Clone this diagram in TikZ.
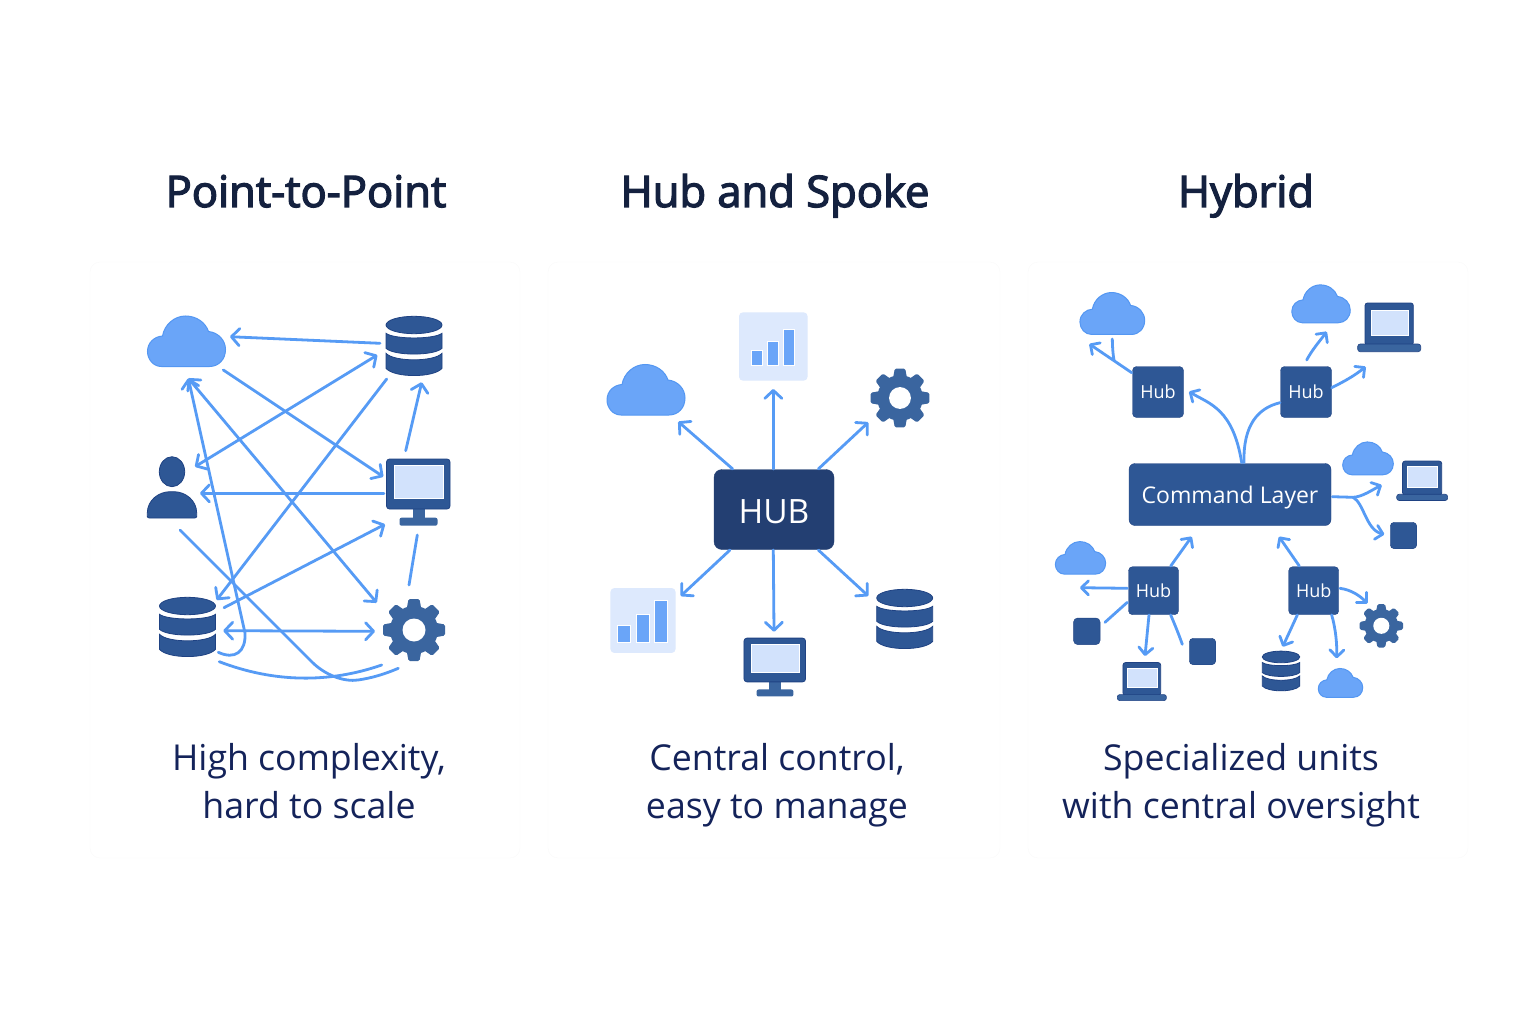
\documentclass[tikz,border=0pt]{standalone}
\usepackage{fontspec}
\setmainfont{Open Sans}
\newfontfamily\titlefont{Open Sans}[FakeBold=3]
\usepackage{tikz}
\usetikzlibrary{arrows.meta}
\usetikzlibrary{positioning}

\definecolor{flowblue}{HTML}{569BF5}
\definecolor{cloudblue}{HTML}{6AA5F8}
\definecolor{cloudedge}{HTML}{5497F2}
\definecolor{iconblue}{HTML}{2E5795}
\definecolor{iconedge}{HTML}{1F4283}
\definecolor{gearblue}{HTML}{3A659F}
\definecolor{screenblue}{HTML}{D2E2FC}
\definecolor{tileblue}{HTML}{DDE9FD}
\definecolor{hubnavy}{HTML}{233F72}
\definecolor{titleink}{HTML}{14213F}
\definecolor{capink}{HTML}{14235A}

\tikzset{%
  tipA/.tip={Straight Barb[round,length=8pt,width=17pt]},
  tipB/.tip={Straight Barb[round,length=7pt,width=14pt]},
}

\tikzset{flow/.style = {draw=flowblue,line width=2.8pt,line cap=round,line join=round}}
\tikzset{spot/.style = {minimum size=2pt,inner sep=0pt}}
\tikzset{card/.style = {draw=black!2,fill=white,rounded corners=10pt,inner sep=0pt}}
\tikzset{hubbox/.style = {draw=iconedge,fill=iconblue,rounded corners=4pt,inner sep=0pt,text=white,text height=13pt,text depth=0pt,font=\fontsize{18}{18}\selectfont}}
\tikzset{headline/.style = {text=titleink,text height=30pt,text depth=10pt,font=\fontsize{43.5}{44}\titlefont}}
\tikzset{caption/.style = {text=capink,align=center,text depth=9pt,font=\fontsize{35.7}{48}\selectfont}}

\tikzset{pics/cloudicon/.style = {code = {
  \path[fill=cloudblue,draw=cloudedge,line width=1pt]
    (-25,25) .. controls (-33,25) and (-39,18) .. (-39,10)
    .. controls (-39,1) and (-32,-5) .. (-24,-5.5)
    .. controls (-22,-17) and (-12,-25.5) .. (-1,-25.5)
    .. controls (10,-25.5) and (19,-19) .. (22,-10)
    .. controls (32,-9) and (39,-1) .. (39,8)
    .. controls (39,18) and (32,25) .. (23,25) -- cycle;
}}}
\tikzset{pics/dbicon/.style = {code = {
  \path[fill=iconblue,draw=iconedge,line width=0.8pt]
    (0,-21) ellipse [x radius=28,y radius=8.7]
    (-28,-12.7) .. controls (-20,-6.5) and (20,-6.5) .. (28,-12.7) -- (28,2.3)
    .. controls (20,10) and (-20,10) .. (-28,2.3) -- cycle
    (-28,7.3) .. controls (-20,16) and (20,16) .. (28,7.3) -- (28,22.3)
    .. controls (20,32) and (-20,32) .. (-28,22.3) -- cycle;
}}}
\tikzset{pics/monitoricon/.style = {code = {
  \fill[gearblue] (-6,16) rectangle (6.5,27);
  \fill[gearblue,rounded corners=2pt] (-19,25.7) rectangle (19,33.7);
  \path[fill=iconblue,draw=iconedge,line width=0.8pt,rounded corners=3pt] (-32,-33) rectangle (31.5,17);
  \path[fill=screenblue,draw=white,line width=0.8pt] (-24.5,-26.3) rectangle (25,6.3);
}}}
\tikzset{pics/laptopicon/.style = {code = {
  \path[fill=iconblue,draw=iconedge,line width=0.8pt,rounded corners=2.5pt] (-24,-24) rectangle (24.3,18);
  \path[fill=screenblue,draw=white,line width=0.8pt] (-18,-17) rectangle (19.5,8);
  \path[fill=gearblue,draw=iconedge,line width=0.6pt,rounded corners=2.5pt] (-31.3,17) rectangle (31.7,24.7);
}}}
\tikzset{pics/gearicon/.style = {code = {
  \foreach \a in {0,45,...,315}
    \fill[gearblue,rotate=\a,rounded corners=1.5pt] (-5.5,-31) -- (5.5,-31) -- (7.5,-20) -- (-7.5,-20) -- cycle;
  \fill[gearblue] (0,0) circle [radius=24];
  \fill[white] (0,0) circle [radius=11.5];
}}}
\tikzset{pics/personicon/.style = {code = {
  \path[fill=iconblue,draw=iconedge,line width=0.8pt] (0,-16.3) ellipse [x radius=12.7,y radius=15];
  \path[fill=iconblue,draw=iconedge,line width=0.8pt,rounded corners=2pt]
    (-24.7,30) -- (-24.7,27) .. controls (-24.7,12) and (-13,3.7) .. (0,3.7)
    .. controls (13,3.7) and (24.7,12) .. (24.7,27) -- (24.7,30) -- cycle;
}}}
\tikzset{pics/barsicon/.style = {code = {
  \path[fill=tileblue,rounded corners=4pt] (-34.3,-34.2) rectangle (34.3,34.2);
  \begin{scope}[scale=#1]
    \path[fill=cloudblue,draw=white,line width=0.5pt] (-22.3,4.2) rectangle (-11,18.5);
    \path[fill=cloudblue,draw=white,line width=0.5pt] (-5.6,-5.5) rectangle (5,18.5);
    \path[fill=cloudblue,draw=white,line width=0.5pt] (10,-17.5) rectangle (21,18.5);
  \end{scope}
}}}

\begin{document}
\begin{tikzpicture}[x=1pt,y=-1pt]
  \useasboundingbox (0,0) rectangle (1536,1024);

  \foreach \name/\x/\w in {cardA/305/430,cardB/774/452,cardC/1248/440}
    \node[card,minimum width=\w,minimum height=596] (\name) at (\x,560) {};

  % titles and captions
  \node[headline] (titleA) at (306,197) {Point-to-Point};
  \node[headline] (titleB) at (775,197) {Hub and Spoke};
  \node[headline] (titleC) at (1246,197) {Hybrid};
  \node[caption] (capA) at (309,785) {High complexity,\\hard to scale};
  \node[caption] (capB) at (777,785) {Central control,\\easy to manage};
  \node[caption] (capC) at (1241,785) {Specialized units\\with central oversight};

  % icons
  \foreach \name/\x/\y/\scl in {cloudA/186.5/341.5/1,cloudB/646/390/1,cloudC/1112.3/313.7/0.83,cloudD/1321/304/0.75,cloudE/1368/458.5/0.65,cloudF/1080.5/558/0.645,cloudG/1340.5/683/0.57}
    {\node[spot] (\name) at (\x,\y) {}; \pic[scale=\scl] at (\name) {cloudicon};}
  \foreach \name/\x/\y/\scl in {dbA/414/346/1,dbB/187.5/627/1,dbD/904.7/619/1,dbC/1281/671/0.67}
    {\node[spot] (\name) at (\x,\y) {}; \pic[scale=\scl] at (\name) {dbicon};}
  \foreach \name/\x/\y/\scl in {gearA/414/630/1,gearB/900/398/0.95,gearC/1381.3/625.8/0.7}
    {\node[spot] (\name) at (\x,\y) {}; \pic[scale=\scl] at (\name) {gearicon};}
  \foreach \name/\x/\y/\scl in {laptopA/1389/327/1,laptopB/1422/480.5/0.81,laptopC/1141.7/681.3/0.78}
    {\node[spot] (\name) at (\x,\y) {}; \pic[scale=\scl] at (\name) {laptopicon};}
  \node[spot] (monA) at (418.5,492) {};
  \pic at (monA) {monitoricon};
  \node[spot] (monB) at (775,667) {};
  \pic[xscale=0.97,yscale=0.875] at (monB) {monitoricon};
  \node[spot] (person) at (172,488) {};
  \pic at (person) {personicon};
  \node[spot] (barsA) at (773.3,346.5) {};
  \pic at (barsA) {barsicon=1};
  \node[spot] (barsB) at (643,620.5) {};
  \pic[scale=0.95] at (barsB) {barsicon=1.22};
  \foreach \name/\x/\y in {squareA/1403.5/535.5,squareB/1086.8/631.3,squareC/1202.5/651.5}
    \node[hubbox,minimum size=26.5] (\name) at (\x,\y) {};

  % hubs
  \node[hubbox,draw=hubnavy,fill=hubnavy,rounded corners=8pt,minimum width=120,minimum height=80,text height=28pt,font=\fontsize{33.5}{36}\selectfont] (hub) at (774,509.5) {HUB};
  \node[hubbox,rounded corners=6pt,minimum width=202,minimum height=62,text height=17.5pt,font=\fontsize{23}{24}\selectfont] (cmd) at (1230,494.5) {Command Layer};
  \node[hubbox,minimum width=51,minimum height=51] (hubA) at (1158,392) {Hub};
  \node[hubbox,minimum width=51,minimum height=51] (hubB) at (1306,392) {Hub};
  \node[hubbox,minimum width=50,minimum height=48] (hubC) at (1153.5,590.7) {Hub};
  \node[hubbox,minimum width=50,minimum height=48] (hubD) at (1313.7,590.7) {Hub};

  \coordinate (forkA) at (1353,497.3);
  \coordinate (forkB) at (1114,360);

  % point-to-point links
  \foreach \from/\fx/\fy/\to/\tx/\ty in {dbA/-34/-2.7/cloudA/43.5/-4.8, cloudA/36.8/28.5/monA/-35.2/-15.3, dbA/-27.3/33/dbB/29.2/-27, monA/-34.5/1.3/person/28/5.3, monA/-12.8/-41.3/dbA/7.7/36.3, dbB/36.5/-19.3/monA/-33.5/32.3}
    \draw[flow,-tipA] ([shift={(\fx,\fy)}]\from.center) -- ([shift={(\tx,\ty)}]\to.center);
  \foreach \from/\fx/\fy/\to/\tx/\ty in {person/23/-21.3/dbA/-36.7/9, gearA/-37.3/-27.3/cloudA/1.8/36.8, dbB/35.8/3.7/gearA/-39/1.3}
    \draw[flow,tipA-tipA] ([shift={(\fx,\fy)}]\from.center) -- ([shift={(\tx,\ty)}]\to.center);
  \draw[flow] ([shift={(-5,-45)}]gearA.center) -- ([shift={(-1.2,43)}]monA.center);
  \draw[flow,-tipA] ([shift={(30.8,25.3)}]dbB.center) .. controls (235,660) and (246,652) .. (245,633) -- ([shift={(1.8,36.8)}]cloudA.center);
  \draw[flow] ([shift={(8,42)}]person.center) -- (310,660) .. controls (325,676) and (345,682) .. (358,680) .. controls (372,678) and (385,674) .. ([shift={(-15.7,38.3)}]gearA.center);
  \draw[flow] ([shift={(31.8,34.7)}]dbB.center) .. controls (275,683) and (330,683) .. ([shift={(-32.3,35)}]gearA.center);

  % hub spokes
  \foreach \fx/\fy/\to/\tx/\ty in {-41.3/-40.5/cloudB/32.3/31.7, -0.7/-40.5/barsA/0/42.5, 44.3/-40.5/gearB/-31.7/24.3, -44/40.5/barsB/37.7/-24.5, -0.7/40.5/monB/-1/-35.3, 44.3/40.5/dbD/-36.4/-23}
    \draw[flow,-tipA] ([shift={(\fx,\fy)}]hub.center) -- ([shift={(\tx,\ty)}]\to.center);

  % hybrid links
  \foreach \from/\fx/\fy/\to/\tx/\ty in {hubA/-26.3/-19.3/cloudC/-23/30.3, hubC/17.2/-24.7/cmd/-38.3/42.2, hubC/-26.2/-2.4/cloudF/-0.5/29.7, hubC/-4.5/24.3/laptopC/3.3/-25.3, hubD/-14.4/-24.7/cmd/49/42.2, hubD/-16.4/24.3/dbC/1.7/-24.3}
    \draw[flow,-tipB] ([shift={(\fx,\fy)}]\from.center) -- ([shift={(\tx,\ty)}]\to.center);
  \draw[flow] ([shift={(0,25.3)}]cloudC.center) .. controls (1112.5,348) and (1113,355) .. (forkB);
  \draw[flow] ([shift={(-26.2,11.6)}]hubC.center) -- ([shift={(18.2,-9)}]squareB.center);
  \draw[flow] ([shift={(17.2,24.3)}]hubC.center) .. controls (1175,625) and (1179,635) .. ([shift={(-20.2,-7.2)}]squareC.center);
  \draw[flow,-tipB] ([shift={(11.7,-31.8)}]cmd.center) .. controls (1233,409) and (1210,404) .. ([shift={(31,-0.3)}]hubA.center);
  \draw[flow] ([shift={(14,-31.8)}]cmd.center) .. controls (1243,425) and (1258,408) .. ([shift={(-26,10.7)}]hubB.center);
  \draw[flow,-tipB] ([shift={(0.7,-32)}]hubB.center) .. controls (1312,350) and (1319,342) .. ([shift={(5.7,27.7)}]cloudD.center);
  \draw[flow,-tipB] ([shift={(25.7,-4.3)}]hubB.center) .. controls (1345,381) and (1354,376) .. ([shift={(-23.3,39.7)}]laptopA.center);
  \draw[flow,-tipB] ([shift={(102.3,2.2)}]cmd.center) -- (forkA) .. controls (1362,497) and (1372,490) .. ([shift={(-40.3,4.5)}]laptopB.center);
  \draw[flow,-tipB] (forkA) .. controls (1364,503) and (1366,530) .. ([shift={(-19.2,-1.2)}]squareA.center);
  \draw[flow,-tipB] ([shift={(26.3,-2.4)}]hubD.center) .. controls (1352,590) and (1360,596) .. ([shift={(-14,-22.5)}]gearC.center);
  \draw[flow,-tipB] ([shift={(18,24.3)}]hubD.center) .. controls (1336,630) and (1337,645) .. ([shift={(-3.8,-24.7)}]cloudG.center);

\end{tikzpicture}
\end{document}
